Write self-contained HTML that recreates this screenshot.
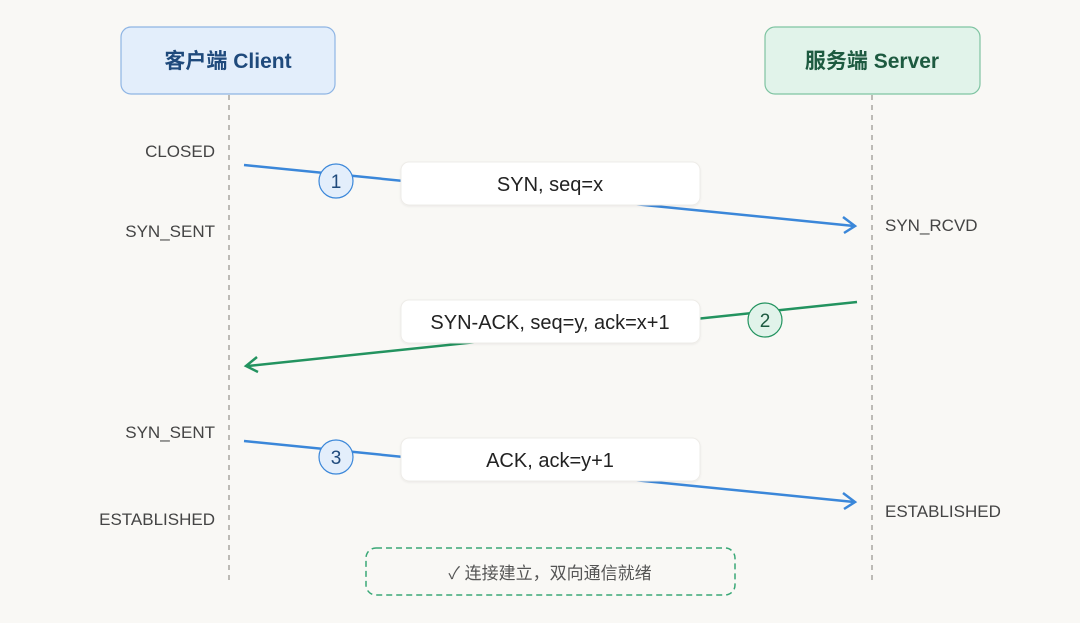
<!DOCTYPE html>
<html><head><meta charset="utf-8"><style>
html,body{margin:0;padding:0;background:#f9f8f5;}
svg{display:block;font-family:"Liberation Sans","Noto Sans CJK SC",sans-serif;}
</style></head><body>
<svg width="1080" height="623" viewBox="0 0 1080 623" xmlns="http://www.w3.org/2000/svg">
<rect width="1080" height="623" fill="#f9f8f5"/>
<defs>
<filter id="sh" x="-10%" y="-20%" width="120%" height="150%"><feDropShadow dx="0" dy="1" stdDeviation="1" flood-color="#000" flood-opacity="0.06"/></filter>
</defs>
<line x1="229" y1="95" x2="229" y2="580" stroke="#bdbbb6" stroke-width="2" stroke-dasharray="5,5"/>
<line x1="872" y1="95" x2="872" y2="580" stroke="#bdbbb6" stroke-width="2" stroke-dasharray="5,5"/>
<rect x="121" y="27" width="214" height="67" rx="10" fill="#e3eefb" stroke="#8fb5e4" stroke-width="1.2"/>
<text x="228" y="68" text-anchor="middle" font-size="21" fill="#1f4a7c" font-weight="bold">客户端 Client</text>
<rect x="765" y="27" width="215" height="67" rx="10" fill="#e1f3ea" stroke="#7fc4a2" stroke-width="1.2"/>
<text x="872" y="68" text-anchor="middle" font-size="21" fill="#1d5a40" font-weight="bold">服务端 Server</text>
<g font-size="17" fill="#444">
<text x="215" y="157" text-anchor="end">CLOSED</text>
<text x="215" y="237" text-anchor="end">SYN_SENT</text>
<text x="215" y="438" text-anchor="end">SYN_SENT</text>
<text x="215" y="525" text-anchor="end">ESTABLISHED</text>
<text x="885" y="231">SYN_RCVD</text>
<text x="885" y="517">ESTABLISHED</text>
</g>
<line x1="244" y1="165" x2="854" y2="226" stroke="#3b87d9" stroke-width="2.5"/>
<polyline points="843,217 855,226 844,233" fill="none" stroke="#3b87d9" stroke-width="2.5"/>
<circle cx="336" cy="181" r="17" fill="#e3eefb" stroke="#3b87d9" stroke-width="1.2"/>
<text x="336" y="188" text-anchor="middle" font-size="19" fill="#1f4a7c">1</text>
<rect x="401" y="162" width="299" height="43" rx="8" fill="#fff" stroke="#eeece8" filter="url(#sh)"/>
<text x="550" y="191" text-anchor="middle" font-size="20" fill="#222">SYN, seq=x</text>
<line x1="857" y1="302" x2="248" y2="366" stroke="#23935f" stroke-width="2.5"/>
<polyline points="257,357 246,366 258,372" fill="none" stroke="#23935f" stroke-width="2.5"/>
<circle cx="765" cy="320" r="17" fill="#e1f3ea" stroke="#23935f" stroke-width="1.2"/>
<text x="765" y="327" text-anchor="middle" font-size="19" fill="#1d5a40">2</text>
<rect x="401" y="300" width="299" height="43" rx="8" fill="#fff" stroke="#eeece8" filter="url(#sh)"/>
<text x="550" y="329" text-anchor="middle" font-size="20" fill="#222">SYN-ACK, seq=y, ack=x+1</text>
<line x1="244" y1="441" x2="854" y2="502" stroke="#3b87d9" stroke-width="2.5"/>
<polyline points="843,493 855,502 844,509" fill="none" stroke="#3b87d9" stroke-width="2.5"/>
<circle cx="336" cy="457" r="17" fill="#e3eefb" stroke="#3b87d9" stroke-width="1.2"/>
<text x="336" y="464" text-anchor="middle" font-size="19" fill="#1f4a7c">3</text>
<rect x="401" y="438" width="299" height="43" rx="8" fill="#fff" stroke="#eeece8" filter="url(#sh)"/>
<text x="550" y="467" text-anchor="middle" font-size="20" fill="#222">ACK, ack=y+1</text>
<rect x="366" y="548" width="369" height="47" rx="10" fill="none" stroke="#3aa877" stroke-width="1.5" stroke-dasharray="6,4"/>
<text x="550" y="579" text-anchor="middle" font-size="17" fill="#555">✓ 连接建立，双向通信就绪</text>
</svg>
</body></html>
